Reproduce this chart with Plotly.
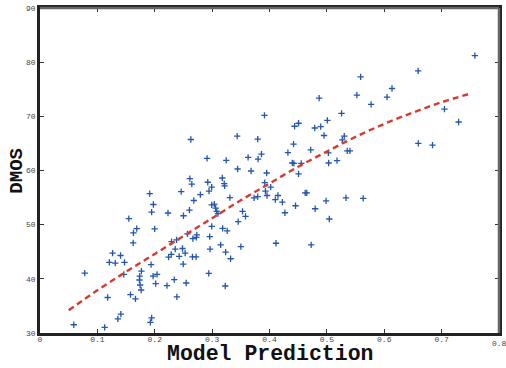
import plotly.graph_objects as go

# Scatter data: model prediction vs DMOS
pred = [0.0589, 0.0780, 0.1127, 0.1179, 0.1208, 0.1265, 0.1312, 0.1357, 0.1404, 0.1409,
        0.1461, 0.1473, 0.1548, 0.1577, 0.1624, 0.1629, 0.1664, 0.1686, 0.1733, 0.1745,
        0.1763, 0.1738, 0.1768, 0.1912, 0.1924, 0.1946, 0.1936, 0.1946, 0.1971, 0.1976,
        0.1998, 0.2016, 0.2040, 0.2213, 0.2231, 0.2241, 0.2288, 0.2293, 0.2340, 0.2357,
        0.2380, 0.2386, 0.2426, 0.2461, 0.2484, 0.2496, 0.2501, 0.2530, 0.2548, 0.2570,
        0.2605, 0.2612, 0.2629, 0.2646, 0.2657, 0.2681, 0.2721, 0.2726, 0.2664, 0.2733,
        0.2795, 0.2924, 0.2912, 0.2946, 0.2993, 0.2993, 0.3038, 0.3062, 0.3080, 0.3102,
        0.2993, 0.2958, 0.2964, 0.2941, 0.3149, 0.3177, 0.3211, 0.3218, 0.3184, 0.3236,
        0.3229, 0.3246, 0.3263, 0.3310, 0.3322, 0.3437, 0.3444, 0.3454, 0.3501, 0.3530,
        0.3582, 0.3627, 0.3679, 0.3731, 0.3795, 0.3795, 0.3801, 0.3860, 0.3912, 0.3917,
        0.3929, 0.3951, 0.3957, 0.4021, 0.4102, 0.4113, 0.4147, 0.4224, 0.4269, 0.4321,
        0.4397, 0.4425, 0.4419, 0.4437, 0.4506, 0.4454, 0.4506, 0.4553, 0.4622, 0.4650,
        0.4719, 0.4726, 0.4789, 0.4796, 0.4865, 0.4893, 0.4951, 0.4986, 0.5009, 0.5026,
        0.5031, 0.5043, 0.5177, 0.5256, 0.5269, 0.5303, 0.5333, 0.5355, 0.5402, 0.5523,
        0.5589, 0.5633, 0.5771, 0.6049, 0.6135, 0.6591, 0.6594, 0.6841, 0.7049, 0.7296,
        0.7579]
dmos = [31.52, 41.06, 31.05, 36.55, 43.03, 44.73, 42.90, 32.62, 44.31, 33.49,
        40.83, 43.03, 51.10, 37.10, 46.64, 48.48, 36.29, 49.27, 39.78, 38.86,
        37.94, 40.51, 41.43, 55.74, 31.96, 32.81, 42.61, 52.33, 40.51, 53.72,
        49.21, 39.12, 40.83, 38.75, 52.15, 44.00, 44.50, 46.88, 39.85, 45.47,
        47.19, 36.66, 44.13, 56.11, 45.60, 42.72, 51.65, 44.73, 39.23, 48.29,
        52.70, 58.50, 65.72, 57.47, 44.07, 54.46, 44.07, 47.67, 47.43, 48.11,
        55.56, 57.83, 62.24, 56.18, 56.92, 53.67, 53.80, 53.06, 52.44, 52.02,
        49.69, 47.80, 45.47, 41.01, 46.28, 58.62, 57.58, 57.16, 49.32, 44.92,
        38.68, 61.87, 48.84, 55.01, 43.71, 66.33, 60.28, 50.55, 45.96, 52.44,
        51.52, 62.42, 59.91, 54.95, 55.19, 65.78, 62.11, 63.03, 70.18, 57.76,
        56.18, 59.54, 55.38, 56.92, 54.64, 46.57, 55.38, 54.17, 52.20, 63.30,
        61.38, 61.32, 64.86, 68.17, 68.72, 53.49, 59.36, 61.32, 55.87, 55.87,
        63.82, 46.28, 67.85, 52.94, 73.36, 68.11, 66.46, 54.40, 69.27, 63.27,
        61.38, 51.05, 61.83, 70.55, 65.65, 66.33, 54.95, 63.63, 63.63, 73.91,
        77.28, 54.86, 72.20, 73.54, 75.14, 78.39, 64.99, 64.68, 71.32, 68.95,
        81.19]

# Fitted curve
fit_x = [0.05, 0.10, 0.15, 0.20, 0.25, 0.30, 0.35, 0.40, 0.45, 0.50, 0.55, 0.60, 0.65, 0.70, 0.75]
fit_y = [34.2, 37.9, 41.3, 44.6, 47.9, 51.2, 54.5, 57.6, 60.7, 63.5, 66.2, 68.6, 70.7, 72.6, 74.2]

x_ticks = [0, 0.1, 0.2, 0.3, 0.4, 0.5, 0.6, 0.7, 0.8]
x_tick_labels = ["0", "0.1", "0.2", "0.3", "0.4", "0.5", "0.6", "0.7", "0.8"]
y_ticks = [30, 40, 50, 60, 70, 80, 90]

fig = go.Figure()
fig.add_trace(go.Scatter(
    x=pred, y=dmos, mode="markers",
    marker=dict(symbol="cross-thin", size=4.5, line=dict(color="#2456ad", width=1.3)),
    showlegend=False))
fig.add_trace(go.Scatter(
    x=fit_x, y=fit_y, mode="lines", line_shape="spline",
    line=dict(color="#d93a2e", width=2.4, dash="6px,4px"),
    showlegend=False))

tickfont = dict(family="Liberation Mono, Courier New, monospace", size=8, color="#444")
fig.update_xaxes(range=[0, 0.8], tickvals=x_ticks, ticktext=x_tick_labels,
                 ticks="inside", ticklen=4, tickcolor="#333", tickwidth=1,
                 ticklabelstandoff=-3,
                 showline=True, linecolor="#222", linewidth=2.5, mirror="ticks",
                 showgrid=False, zeroline=False, tickfont=tickfont)
fig.update_yaxes(range=[30, 90], tickvals=y_ticks,
                 ticks="inside", ticklen=4, tickcolor="#333", tickwidth=1,
                 showline=True, linecolor="#222", linewidth=2.5, mirror="ticks",
                 showgrid=False, zeroline=False, tickfont=tickfont)

# grey top and right frame lines, as in the reference
fig.add_shape(type="line", xref="paper", yref="paper", x0=0, x1=1, y0=1, y1=1,
              line=dict(color="#666", width=2.5), layer="above")
fig.add_shape(type="line", xref="paper", yref="paper", x0=1, x1=1, y0=0, y1=1,
              line=dict(color="#666", width=2.5), layer="above")

# last x tick label, partly clipped by the page edge
fig.add_annotation(text="0.8", xref="x", yref="paper", x=0.8, y=-0.013,
                   xanchor="center", yanchor="top", showarrow=False,
                   font=tickfont)

titlefont = dict(family="Liberation Mono, Courier New, monospace", color="#111")
fig.add_annotation(text="<b>Model Prediction</b>", xref="paper", yref="paper",
                   x=0.5, y=-0.066, xanchor="center", yanchor="middle",
                   showarrow=False, font=dict(size=21.5, **titlefont))
fig.add_annotation(text="<b>DMOS</b>", xref="paper", yref="paper",
                   x=-0.052, y=0.5, xanchor="center", yanchor="middle", textangle=-90,
                   showarrow=False, font=dict(size=19, **titlefont))

fig.update_layout(width=506, height=368,
                  margin=dict(l=40, r=4, t=6, b=35),
                  plot_bgcolor="white", paper_bgcolor="white")
fig.write_html("out.html")
